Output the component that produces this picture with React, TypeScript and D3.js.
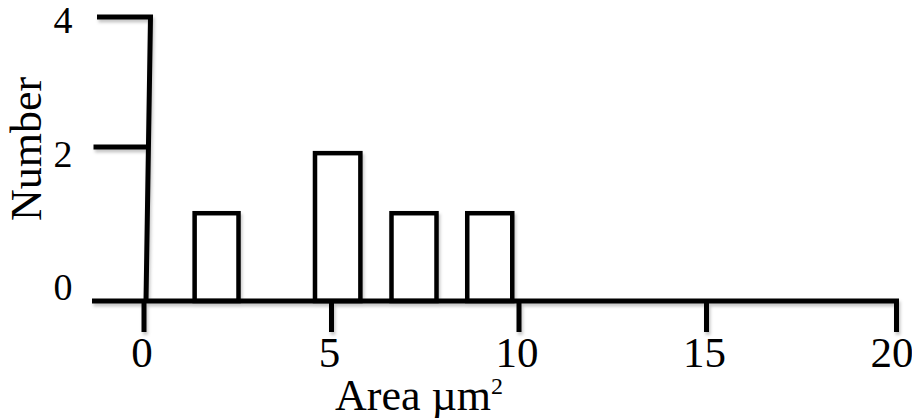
import { useEffect, useRef } from 'react';
import * as d3 from 'd3';

// histogram bins (area, µm²) and counts
const binStart = [1.35, 4.56, 6.6, 8.62];
const binEnd = [2.52, 5.77, 7.8, 9.82];
const counts = [1.14, 1.92, 1.14, 1.14];

const xTicks = [0, 5, 10, 15, 20];
const yTicks = [0, 2, 4];

const WIDTH = 912;
const HEIGHT = 418;

const App = () => {
  const svgRef = useRef<SVGSVGElement | null>(null);

  useEffect(() => {
    if (!svgRef.current) return;
    const svg = d3.select(svgRef.current);
    svg.selectAll('*').remove();

    const font = "'Liberation Serif', 'Times New Roman', serif";

    // x is linear, the hand drawn y axis is not quite
    const x = d3.scaleLinear().domain([0, 20]).range([144, 894]);
    const y = d3.scaleLinear().domain([0, 2, 4]).range([301, 147, 17]);
    const yLabel = d3.scaleLinear().domain([0, 4]).range([300, 33]);

    // soft shadow under every line
    const defs = svg.append('defs');
    const filter = defs.append('filter')
      .attr('id', 'shadow')
      .attr('x', '-20%')
      .attr('y', '-20%')
      .attr('width', '140%')
      .attr('height', '140%');
    filter.append('feDropShadow')
      .attr('dx', 1.5)
      .attr('dy', 3)
      .attr('stdDeviation', 1.5)
      .attr('flood-color', '#000')
      .attr('flood-opacity', 0.22);

    const g = svg.append('g')
      .attr('fill', 'none')
      .attr('stroke', '#000')
      .attr('filter', 'url(#shadow)');

    // bars
    g.append('g')
      .attr('stroke-width', 4.5)
      .attr('stroke-linejoin', 'miter')
      .selectAll('rect')
      .data(counts)
      .join('rect')
      .attr('x', (d, i) => x(binStart[i]))
      .attr('width', (d, i) => x(binEnd[i]) - x(binStart[i]))
      .attr('y', d => y(d))
      .attr('height', d => y(0) - y(d))
      .attr('fill', '#fff');

    // x axis line with ticks
    const axis = g.append('g').attr('stroke-width', 5);
    axis.append('path')
      .attr('d', `M92,${y(0)} H${x(20) + 2.5} V${y(0) + 31}`);
    axis.selectAll('line.xt')
      .data(xTicks.slice(0, -1))
      .join('line')
      .attr('class', 'xt')
      .attr('x1', d => x(d))
      .attr('x2', d => x(d))
      .attr('y1', y(0))
      .attr('y2', y(0) + 31);

    // y axis leans a little to the right at the top
    const lean = d3.scaleLinear().domain([0, 4]).range([x(0) + 1, x(0) + 4]);
    axis.append('path')
      .attr('d', `M${lean(4) - 51},${y(4)} H${lean(4) + 2.5} L${lean(0) + 1},${y(0)}`)
      .attr('stroke-linejoin', 'miter');
    axis.selectAll('line.yt')
      .data(yTicks.filter(d => d !== 0 && d !== 4))
      .join('line')
      .attr('class', 'yt')
      .attr('x1', d => lean(d) - 53)
      .attr('x2', d => lean(d))
      .attr('y1', d => y(d))
      .attr('y2', d => y(d));

    // tick labels
    svg.append('g')
      .selectAll('text')
      .data(xTicks)
      .join('text')
      .attr('x', d => x(d) - 2)
      .attr('y', 366.5)
      .attr('text-anchor', 'middle')
      .attr('font-family', font)
      .attr('font-size', 43)
      .attr('fill', '#000')
      .text(d => d);

    svg.append('g')
      .selectAll('text')
      .data(yTicks)
      .join('text')
      .attr('x', 63)
      .attr('y', d => yLabel(d))
      .attr('text-anchor', 'middle')
      .attr('font-family', font)
      .attr('font-size', 38)
      .attr('fill', '#000')
      .text(d => d);

    // axis titles
    const xt = svg.append('text')
      .attr('x', 335)
      .attr('y', 410)
      .attr('font-family', font)
      .attr('font-size', 44)
      .attr('fill', '#000');
    xt.append('tspan').text('Area µm');
    xt.append('tspan')
      .attr('font-size', 24)
      .attr('dy', -16)
      .text('2');

    svg.append('text')
      .attr('transform', 'translate(41,149) rotate(-90)')
      .attr('text-anchor', 'middle')
      .attr('font-family', font)
      .attr('font-size', 44)
      .attr('fill', '#000')
      .text('Number');
  }, []);

  return (
    <svg
      ref={svgRef}
      width={WIDTH}
      height={HEIGHT}
      style={{ position: 'fixed', left: 0, top: 0, background: '#fff' }}
    />
  );
};

export default App;
